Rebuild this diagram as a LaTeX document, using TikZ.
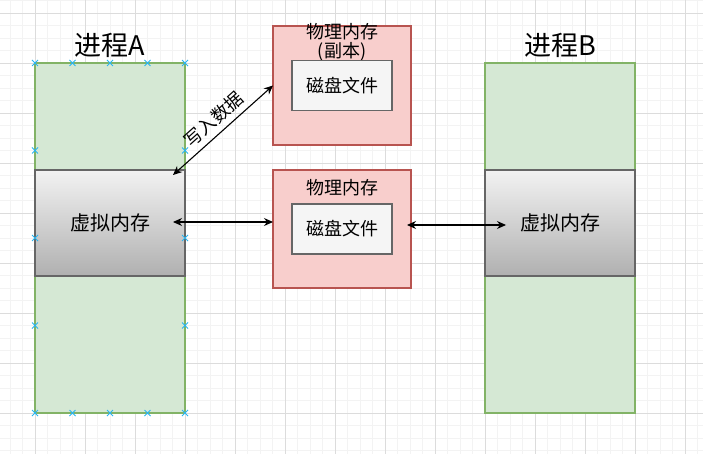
\documentclass[tikz,border=0pt]{standalone}
\usepackage{fontspec}
\newfontfamily\cjk{Noto Sans CJK SC}
\usepackage{tikz}
\usetikzlibrary{arrows.meta}

\definecolor{procfill}{HTML}{D5E8D4}
\definecolor{procline}{HTML}{82B366}
\definecolor{memfill}{HTML}{F8CECC}
\definecolor{memline}{HTML}{B85450}
\definecolor{filefill}{HTML}{F5F5F5}
\definecolor{boxline}{HTML}{666666}
\definecolor{handle}{HTML}{29B6F2}
\definecolor{gridminor}{HTML}{F3F3F3}
\definecolor{gridmajor}{HTML}{DCDCDC}

\begin{document}
\begin{tikzpicture}[x=1pt, y=-1pt,
  every node/.style={font=\cjk, inner sep=0pt, outer sep=0pt},
  proc/.style ={draw=procline, fill=procfill, line width=1.1pt,
                minimum width=150pt, minimum height=350pt},
  virt/.style ={draw=boxline, top color=black!5, bottom color=black!31,
                line width=1.1pt, minimum width=150pt, minimum height=106pt,
                font=\cjk\fontsize{20}{23}\selectfont},
  phys/.style ={draw=memline, fill=memfill, line width=1.1pt,
                minimum width=138pt, minimum height=#1},
  dfile/.style={draw=boxline, fill=filefill, line width=1.1pt,
                minimum width=100pt, minimum height=50pt,
                font=\cjk\fontsize{18}{21}\selectfont},
  title/.style={font=\cjk\fontsize{27}{30}\selectfont},
  lbl/.style  ={font=\cjk\fontsize{18}{19}\selectfont, align=center},
  arr/.style  ={{Stealth[length=9pt,width=8pt]}-{Stealth[length=9pt,width=8pt]},
                line width=1.1pt},
  hmark/.style={draw=handle, line width=1pt}]

\useasboundingbox (0,0) rectangle (703,454);

%% Background grid
\foreach \i in {0,...,57}
  \draw[gridminor, line width=0.8pt] ({-15+12.5*\i},0) -- ({-15+12.5*\i},454);
\foreach \i in {0,...,37}
  \draw[gridminor, line width=0.8pt] (0,{0.5+12.5*\i}) -- (703,{0.5+12.5*\i});
\foreach \i in {0,...,14}
  \draw[gridmajor, line width=0.8pt] ({-15+50*\i},0) -- ({-15+50*\i},454);
\foreach \i in {0,...,8}
  \draw[gridmajor, line width=0.8pt] (0,{13+50*\i}) -- (703,{13+50*\i});

%% Process A
\node[title] (titleA) at (110,45) {进程A};
\node[proc]  (procA)  at (110,238) {};
\node[virt]  (virtA)  at (110,223) {虚拟内存};

%% Process B
\node[title] (titleB) at (560,45) {进程B};
\node[proc]  (procB)  at (560,238) {};
\node[virt]  (virtB)  at (560,223) {虚拟内存};

%% Physical memory (copy)
\node[phys=119pt] (physcopy) at (342,85.5) {};
\node[lbl]   (copylbl)  at (342,42.5) {物理内存\\(副本)};
\node[dfile] (filecopy) at (342,85.5) {磁盘文件};

%% Physical memory
\node[phys=118pt] (physmem) at (342,229) {};
\node[lbl]   (memlbl)   at (342,188) {物理内存};
\node[dfile] (filemem)  at (342,229) {磁盘文件};

%% Arrows
\draw[arr] ([xshift=-12pt,yshift=-5pt]virtA.north east) --
    node[midway, sloped, above=6pt, lbl]{写入数据}
    (physcopy.west);
\draw[arr] ([xshift=-12pt,yshift=1pt]virtA.east) -- ([yshift=7pt]physmem.west);
\draw[arr] ([xshift=-4pt,yshift=4pt]physmem.east) -- ([xshift=21pt,yshift=-2pt]virtB.west);

%% Selection handles on process A
\foreach \hx/\hy in {35/63, 72.5/63, 110/63, 147.5/63, 185/63,
                     35/150.5, 185/150.5, 35/238, 185/238, 35/325.5, 185/325.5,
                     35/413, 72.5/413, 110/413, 147.5/413, 185/413}
  \draw[hmark] (\hx-3,\hy-3) -- (\hx+3,\hy+3)
               (\hx-3,\hy+3) -- (\hx+3,\hy-3);
\end{tikzpicture}
\end{document}
